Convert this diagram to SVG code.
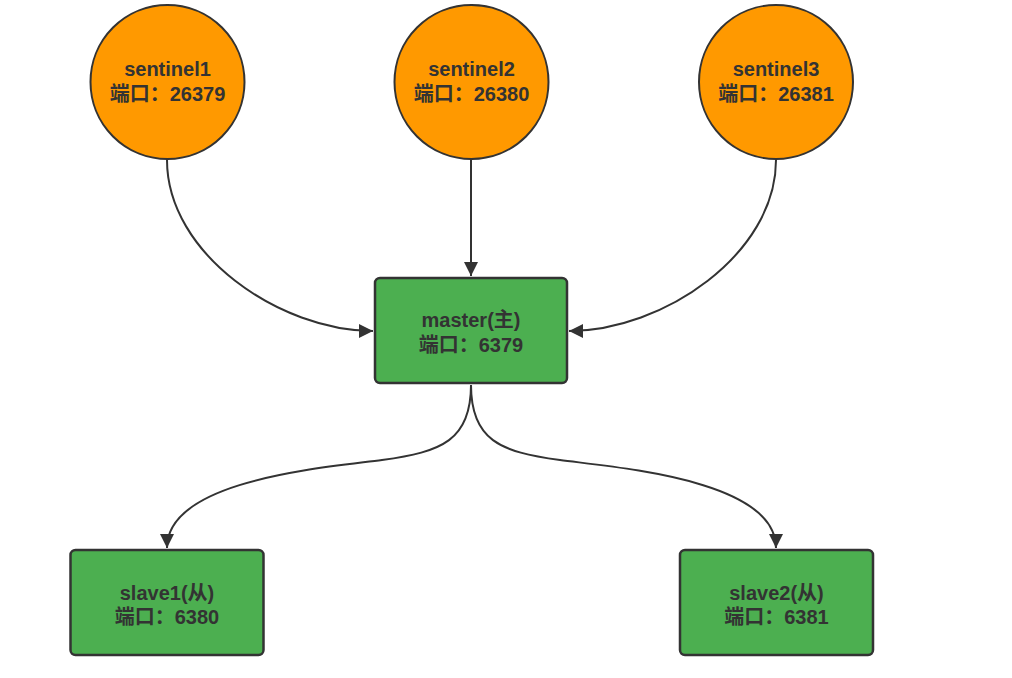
<svg xmlns="http://www.w3.org/2000/svg" width="1012" height="678" viewBox="0 0 1012 678">
<defs>
<style>
.sent{fill:#FF9900;stroke:#333333;stroke-width:2}
.box{fill:#4CAF50;stroke:#333333;stroke-width:2.5}
.lbl{font-family:"Liberation Sans","Noto Sans CJK SC",sans-serif;font-weight:bold;font-size:20px;fill:#333333;text-anchor:middle}
.edge{fill:none;stroke:#333333;stroke-width:2}
</style>
<marker id="arr" viewBox="0 0 10 10" refX="10" refY="5" markerWidth="15" markerHeight="14" markerUnits="userSpaceOnUse" orient="auto">
<path d="M0,0 L10,5 L0,10 Z" fill="#333333"/>
</marker>
</defs>
<rect width="1012" height="678" fill="#ffffff"/>
<g id="connectors">
<path class="edge" d="M167,160 C167,254 280,331 373,331" marker-end="url(#arr)"/>
<path class="edge" d="M471,160 L471,276" marker-end="url(#arr)"/>
<path class="edge" d="M776,160 C776,254 663,331 569,331" marker-end="url(#arr)"/>
<path class="edge" d="M471,385 C471,440 442,452 382,460 C322,468 167,480 167,548" marker-end="url(#arr)"/>
<path class="edge" d="M471,385 C471,440 500,452 560,460 C620,468 776,480 776,548" marker-end="url(#arr)"/>
</g>
<g id="sentinel1">
<circle class="sent" cx="167.5" cy="82" r="77"/>
<text class="lbl" x="167.5" y="76">sentinel1</text>
<text class="lbl" x="167.5" y="101">端口：26379</text>
</g>
<g id="sentinel2">
<circle class="sent" cx="471.5" cy="82" r="77"/>
<text class="lbl" x="471.5" y="76">sentinel2</text>
<text class="lbl" x="471.5" y="101">端口：26380</text>
</g>
<g id="sentinel3">
<circle class="sent" cx="776" cy="82" r="77"/>
<text class="lbl" x="776" y="76">sentinel3</text>
<text class="lbl" x="776" y="101">端口：26381</text>
</g>
<g id="master">
<rect class="box" x="375" y="278" width="192" height="105" rx="5"/>
<text class="lbl" x="471" y="327">master(主)</text>
<text class="lbl" x="471" y="352">端口：6379</text>
</g>
<g id="slave1">
<rect class="box" x="70.5" y="550" width="193" height="105" rx="5"/>
<text class="lbl" x="167" y="600">slave1(从)</text>
<text class="lbl" x="167" y="624">端口：6380</text>
</g>
<g id="slave2">
<rect class="box" x="680" y="550" width="193" height="105" rx="5"/>
<text class="lbl" x="776.5" y="600">slave2(从)</text>
<text class="lbl" x="776.5" y="624">端口：6381</text>
</g>
</svg>
